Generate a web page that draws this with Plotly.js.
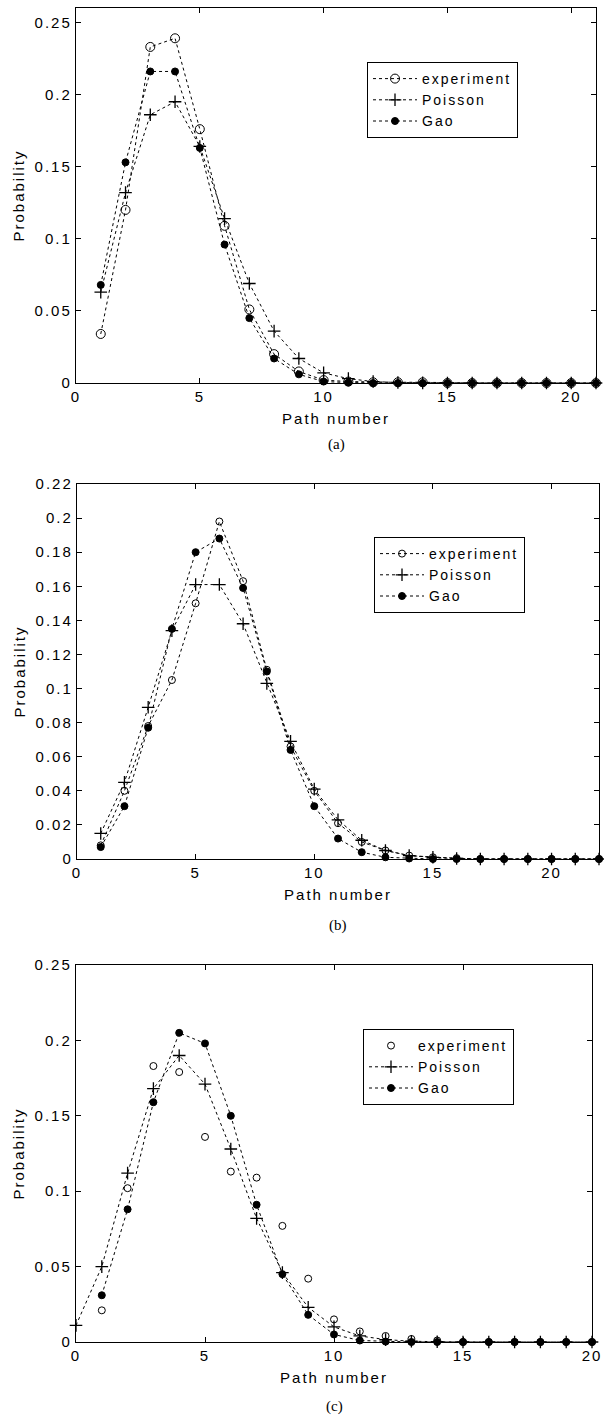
<!DOCTYPE html>
<html>
<head>
<meta charset="utf-8">
<script src="https://cdn.plot.ly/plotly-3.0.1.min.js"></script>
<style>
  html, body { margin: 0; padding: 0; background: #fff; }
  #chart { width: 604px; height: 1424px; }
  svg text { letter-spacing: 2px; }
  svg text.annotation-text { letter-spacing: 0px; }
</style>
</head>
<body>
<div id="chart"></div>
<script>
// ---------- data ----------
// Panel (a)
const pathA = [1,2,3,4,5,6,7,8,9,10,11,12,13,14,15,16,17,18,19,20,21];
const expA  = [0.034,0.120,0.233,0.239,0.176,0.109,0.051,0.020,0.008,0.002,0.001,0.0005,0.0005,0.0005,0,0,0,0,0,0,0];
const poiA  = [0.063,0.132,0.186,0.195,0.164,0.114,0.069,0.036,0.017,0.007,0.003,0.001,0.0003,0.0001,0,0,0,0,0,0,0];
const gaoA  = [0.068,0.153,0.216,0.216,0.163,0.096,0.045,0.017,0.006,0.001,0.0003,0,0,0,0,0,0,0,0,0,0];

// Panel (b)
const pathB = [1,2,3,4,5,6,7,8,9,10,11,12,13,14,15,16,17,18,19,20,21,22];
const expB  = [0.008,0.040,0.078,0.105,0.150,0.198,0.163,0.111,0.066,0.040,0.021,0.010,0.005,0.002,0.001,0.0005,0,0,0,0,0,0];
const poiB  = [0.015,0.045,0.089,0.134,0.161,0.161,0.138,0.103,0.069,0.041,0.023,0.011,0.005,0.002,0.001,0.0003,0,0,0,0,0,0];
const gaoB  = [0.007,0.031,0.077,0.135,0.180,0.188,0.159,0.110,0.064,0.031,0.012,0.004,0.001,0.0003,0,0,0,0,0,0,0,0];

// Panel (c)
const pathC    = [1,2,3,4,5,6,7,8,9,10,11,12,13,14,15,16,17,18,19,20];
const pathCPoi = [0,1,2,3,4,5,6,7,8,9,10,11,12,13,14,15,16,17,18,19,20];
const expC  = [0.021,0.102,0.183,0.179,0.136,0.113,0.109,0.077,0.042,0.015,0.007,0.004,0.002,0.001,0,0,0,0,0,0];
const poiC  = [0.011,0.050,0.112,0.168,0.190,0.171,0.128,0.082,0.046,0.023,0.010,0.004,0.0016,0.0005,0.0002,0,0,0,0,0,0];
const gaoC  = [0.031,0.088,0.159,0.205,0.198,0.150,0.091,0.045,0.018,0.005,0.001,0.0003,0,0,0,0,0,0,0,0];

const seriesNames = ['experiment', 'Poisson', 'Gao'];
const captions = ['(a)', '(b)', '(c)'];
const xTitle = 'Path number';
const yTitle = 'Probability';

// ---------- styling ----------
const FONT = 'Liberation Sans, Arial, Helvetica, sans-serif';
const SERIF = 'Liberation Serif, Times New Roman, serif';
const dashLine = {color: '#000', width: 1, dash: '3px,3px'};

function tr(x, y, name, sym, size, xa, ya, lg, mode) {
  return {
    x: x, y: y, name: name, type: 'scatter', mode: mode || 'lines+markers',
    xaxis: xa, yaxis: ya, legend: lg, cliponaxis: false,
    line: dashLine,
    marker: {symbol: sym, size: size, color: '#000',
             line: {color: '#000', width: sym === 'cross-thin-open' ? 1.3 : 1}}
  };
}

const data = [
  tr(pathA, expA, seriesNames[0], 'circle-open', 9, 'x', 'y', 'legend'),
  tr(pathA, poiA, seriesNames[1], 'cross-thin-open', 9, 'x', 'y', 'legend'),
  tr(pathA, gaoA, seriesNames[2], 'circle', 7, 'x', 'y', 'legend'),

  tr(pathB, expB, seriesNames[0], 'circle-open', 7, 'x2', 'y2', 'legend2'),
  tr(pathB, poiB, seriesNames[1], 'cross-thin-open', 9, 'x2', 'y2', 'legend2'),
  tr(pathB, gaoB, seriesNames[2], 'circle', 7, 'x2', 'y2', 'legend2'),

  tr(pathC, expC, seriesNames[0], 'circle-open', 7, 'x3', 'y3', 'legend3', 'markers'),
  tr(pathCPoi, poiC, seriesNames[1], 'cross-thin-open', 9, 'x3', 'y3', 'legend3'),
  tr(pathC, gaoC, seriesNames[2], 'circle', 7, 'x3', 'y3', 'legend3'),
];

const H = 1424, W = 604;
function ydom(top, bottom) { return [1 - bottom / H, 1 - top / H]; }
function xdom(l, r) { return [l / W, r / W]; }

function xaxis(dom, range, anchor) {
  return {
    domain: dom, range: range, anchor: anchor, dtick: 5, tick0: 0,
    showline: true, linecolor: '#000', linewidth: 1.2, mirror: 'ticks',
    ticks: 'inside', ticklen: 5, tickcolor: '#000', tickwidth: 1,
    ticklabeloverflow: 'allow',
    showgrid: false, zeroline: false,
    tickfont: {family: FONT, size: 15, color: '#000'},
    title: {text: xTitle, font: {family: FONT, size: 15, color: '#000'}, standoff: 9}
  };
}
function yaxis(dom, range, dtick, anchor) {
  return {
    domain: dom, range: range, anchor: anchor, dtick: dtick, tick0: 0,
    showline: true, linecolor: '#000', linewidth: 1.2, mirror: 'ticks',
    ticks: 'inside', ticklen: 5, tickcolor: '#000', tickwidth: 1,
    ticklabeloverflow: 'allow',
    showgrid: false, zeroline: false,
    tickfont: {family: FONT, size: 15, color: '#000'},
    title: {text: yTitle, font: {family: FONT, size: 15, color: '#000'}, standoff: 6}
  };
}
function legend(xpx, ypx) {
  return {
    x: xpx / W, y: 1 - ypx / H, xanchor: 'left', yanchor: 'top',
    bgcolor: '#fff', bordercolor: '#000', borderwidth: 1,
    font: {family: FONT, size: 14, color: '#000'},
    tracegroupgap: 0, itemwidth: 44
  };
}

const domA = ydom(8, 383), domB = ydom(484, 859), domC = ydom(965, 1342);

function caption(text, xpx, ypx) {
  return {text: text, xref: 'paper', yref: 'paper', x: xpx / W, y: 1 - ypx / H,
          xanchor: 'center', yanchor: 'middle', showarrow: false,
          font: {family: SERIF, size: 15, color: '#000'}};
}

const layout = {
  width: W, height: H,
  margin: {l: 0, r: 0, t: 0, b: 0},
  paper_bgcolor: '#fff', plot_bgcolor: '#fff',
  showlegend: true,
  font: {family: FONT, color: '#000'},
  xaxis:  xaxis(xdom(76, 596), [0, 21], 'y'),
  yaxis:  yaxis(domA, [0, 0.26], 0.05, 'x'),
  xaxis2: xaxis(xdom(77, 599), [0, 22], 'y2'),
  yaxis2: yaxis(domB, [0, 0.22], 0.02, 'x2'),
  xaxis3: xaxis(xdom(76, 592), [0, 20], 'y3'),
  yaxis3: yaxis(domC, [0, 0.25], 0.05, 'x3'),
  legend:  legend(367, 62),
  legend2: legend(374, 537),
  legend3: legend(363, 1029),
  annotations: [
    caption(captions[0], 336, 444),
    caption(captions[1], 338, 925),
    caption(captions[2], 334, 1406)
  ]
};

Plotly.newPlot('chart', data, layout, {staticPlot: true, displayModeBar: false});
</script>
</body>
</html>
